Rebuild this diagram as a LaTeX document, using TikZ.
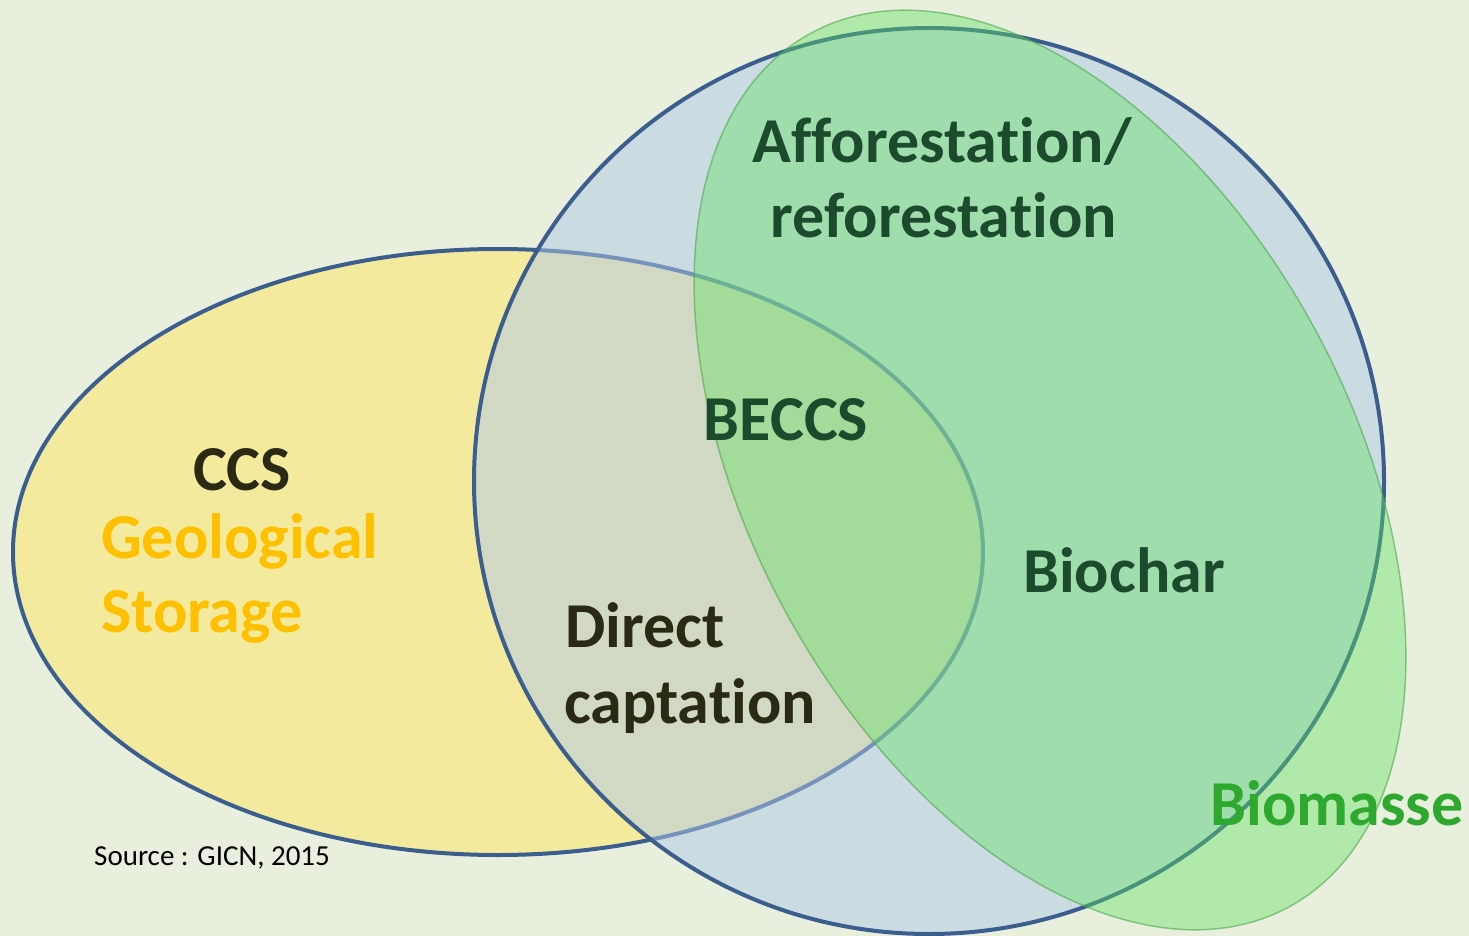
\documentclass[tikz,border=0pt]{standalone}
\usepackage{fontspec}
\setmainfont{Carlito}[Ligatures={NoCommon}]
\definecolor{bg}{HTML}{E8F0DD}
\definecolor{ringblue}{HTML}{3B5E8E}
\definecolor{ccsyellow}{HTML}{F4EA9E}
\definecolor{cblue}{HTML}{B0C8E8}
\definecolor{bmgreen}{HTML}{5FE05F}
\definecolor{bmedge}{HTML}{4FA84F}
\definecolor{forestdark}{HTML}{1B4A2C}
\definecolor{olivedark}{HTML}{2A2A14}
\definecolor{geoorange}{HTML}{FFC000}
\definecolor{biomassgreen}{HTML}{2EA82E}
\begin{document}
\begin{tikzpicture}[x=1pt,y=-1pt,
  big/.style={font=\bfseries\fontsize{64}{76}\selectfont, inner sep=0pt},
  ring/.style={line width=4pt, draw=ringblue}]
\fill[bg] (0,0) rectangle (1469,936);
\useasboundingbox (0,0) rectangle (1469,936);
% CCS ellipse
\draw[ring, fill=ccsyellow] (498,552) ellipse [x radius=485, y radius=303];
% big circle
\draw[ring, fill=cblue, fill opacity=0.5] (929,481) ellipse [x radius=455, y radius=453];
% biomass ellipse
\draw[draw=bmedge, draw opacity=0.6, line width=1.5pt, fill=bmgreen, fill opacity=0.4,
      shift={(1050,470)}, rotate=-61.2] (0,0) ellipse [x radius=498, y radius=300];
% labels
\node[big, text=forestdark, anchor=base] (aff) at (942,163) {Afforesta\kern0pt tion/};
\node[big, text=forestdark, anchor=base] (ref) at (944,237) {reforesta\kern0pt tion};
\node[big, text=olivedark, anchor=base] (ccs) at (242,490) {CCS};
\node[big, text=geoorange, anchor=base west] (geo) at (101,558) {Geological};
\node[big, text=geoorange, anchor=base west] (sto) at (101,632) {Storage};
\node[big, text=forestdark, anchor=base] (beccs) at (786,440) {BECCS};
\node[big, text=olivedark, anchor=base west] (dir) at (565,647) {Direct};
\node[big, text=olivedark, anchor=base west] (cap) at (564,723) {capta\kern0pt tion};
\node[big, text=forestdark, anchor=base] (bio) at (1124,592) {Biochar};
\node[big, text=biomassgreen, anchor=base] (bm) at (1337,825) {Biomasse};
\node[font=\fontsize{29}{35}\selectfont, inner sep=0pt, anchor=base west] (src) at (94,865) {Source : GICN, 2015};
\end{tikzpicture}
\end{document}
